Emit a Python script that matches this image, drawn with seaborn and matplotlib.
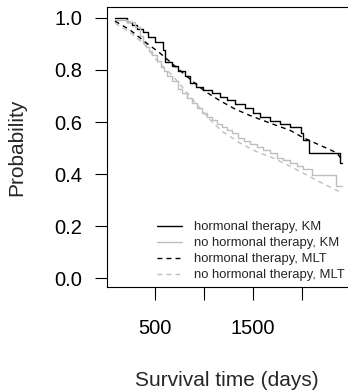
import numpy as np
import pandas as pd
import seaborn as sns
import matplotlib
matplotlib.use("Agg")
import matplotlib.pyplot as plt
from matplotlib.lines import Line2D

# Kaplan-Meier steps, hormonal therapy (days, survival)
ht_km_time = [92, 214, 270, 316, 378, 429, 500, 580, 602, 673, 735, 806, 857, 918, 990,
              1082, 1163, 1235, 1316, 1418, 1500, 1571, 1673, 1776, 1878, 1990, 2010,
              2071, 2388, 2408]
ht_km_surv = [1.000, 0.985, 0.973, 0.958, 0.946, 0.927, 0.908, 0.877, 0.830, 0.815, 0.796,
              0.777, 0.750, 0.735, 0.723, 0.712, 0.696, 0.685, 0.669, 0.654, 0.635, 0.619,
              0.604, 0.592, 0.580, 0.558, 0.531, 0.481, 0.442, 0.442]

# Kaplan-Meier steps, no hormonal therapy
no_km_time = [92, 214, 296, 347, 378, 408, 439, 469, 520, 561, 592, 622, 673, 735, 776,
              827, 878, 929, 980, 1031, 1082, 1133, 1184, 1235, 1286, 1347, 1408, 1469,
              1541, 1602, 1673, 1745, 1806, 1878, 1949, 2010, 2102, 2347, 2408]
no_km_surv = [0.992, 0.985, 0.965, 0.931, 0.904, 0.888, 0.873, 0.858, 0.835, 0.812, 0.796,
              0.777, 0.756, 0.727, 0.712, 0.692, 0.673, 0.654, 0.635, 0.619, 0.606, 0.594,
              0.581, 0.569, 0.556, 0.540, 0.528, 0.515, 0.502, 0.492, 0.481, 0.463, 0.454,
              0.442, 0.431, 0.421, 0.396, 0.352, 0.352]

# fitted MLT curves
ht_mlt_time = [92, 245, 398, 551, 704, 857, 1010, 1163, 1316, 1469, 1673, 1878, 2010,
               2200, 2357, 2408]
ht_mlt_surv = [0.988, 0.954, 0.908, 0.865, 0.815, 0.765, 0.718, 0.682, 0.650, 0.625,
               0.596, 0.568, 0.540, 0.508, 0.481, 0.455]

no_mlt_time = [92, 245, 398, 531, 673, 806, 939, 1092, 1194, 1367, 1541, 1704, 1851,
               2010, 2184, 2388, 2408]
no_mlt_surv = [0.980, 0.945, 0.896, 0.831, 0.781, 0.722, 0.662, 0.596, 0.562, 0.519,
               0.485, 0.462, 0.435, 0.404, 0.369, 0.331, 0.322]

legend_labels = ['hormonal therapy, KM', 'no hormonal therapy, KM',
                 'hormonal therapy, MLT', 'no hormonal therapy, MLT']

sns.set_style("ticks")
plt.rcParams['font.family'] = ['Liberation Sans', 'DejaVu Sans']

W, H = 348, 391
fig = plt.figure(figsize=(W / 100, H / 100), dpi=100)
ax = fig.add_axes([107 / W, 104 / H, 243 / W, 280 / H])

grey = '#bebebe'
dash = (0, (3.5, 3))
sns.lineplot(x=ht_km_time, y=ht_km_surv, ax=ax, color='black', lw=1.0,
             drawstyle='steps-post', estimator=None)
sns.lineplot(x=no_km_time, y=no_km_surv, ax=ax, color=grey, lw=1.0,
             drawstyle='steps-post', estimator=None)
sns.lineplot(x=ht_mlt_time, y=ht_mlt_surv, ax=ax, color='black', lw=1.0,
             linestyle=dash, estimator=None)
sns.lineplot(x=no_mlt_time, y=no_mlt_surv, ax=ax, color=grey, lw=1.0,
             linestyle=dash, estimator=None)

ax.set_xlim(10, 2490)
ax.set_ylim(-0.0346, 1.0423)
ax.set_xticks([500, 1000, 1500, 2000])
ax.set_xticklabels(['500', '', '1500', ''])
ax.set_yticks([0, 0.2, 0.4, 0.6, 0.8, 1.0])
ax.set_yticklabels(['0.0', '0.2', '0.4', '0.6', '0.8', '1.0'])
ax.tick_params(axis='both', direction='out', length=9, width=0.8, color='black',
               labelsize=14.5, labelcolor='black')
ax.tick_params(axis='y', pad=9)
ax.tick_params(axis='x', pad=14)
for s in ax.spines.values():
    s.set_color('black')
    s.set_linewidth(0.8)

ax.set_xlabel('Survival time (days)', fontsize=15, va='center')
ax.set_ylabel('Probability', fontsize=15, va='center')
ax.xaxis.set_label_coords((227 - 107) / 243, (287 - 380) / 280)
ax.yaxis.set_label_coords((17 - 107) / 243, 0.5)

handles = [Line2D([], [], color='black', lw=1.0),
           Line2D([], [], color=grey, lw=1.0),
           Line2D([], [], color='black', lw=1.0, linestyle=dash),
           Line2D([], [], color=grey, lw=1.0, linestyle=dash)]
fig.legend(handles, legend_labels, loc='upper left',
           bbox_to_anchor=(156.7 / W, 1 - 221 / H), frameon=False,
           fontsize=9.4, handlelength=1.9, handletextpad=0.92,
           labelspacing=0.3, borderpad=0, borderaxespad=0)

fig.savefig('out.png', dpi=100)
